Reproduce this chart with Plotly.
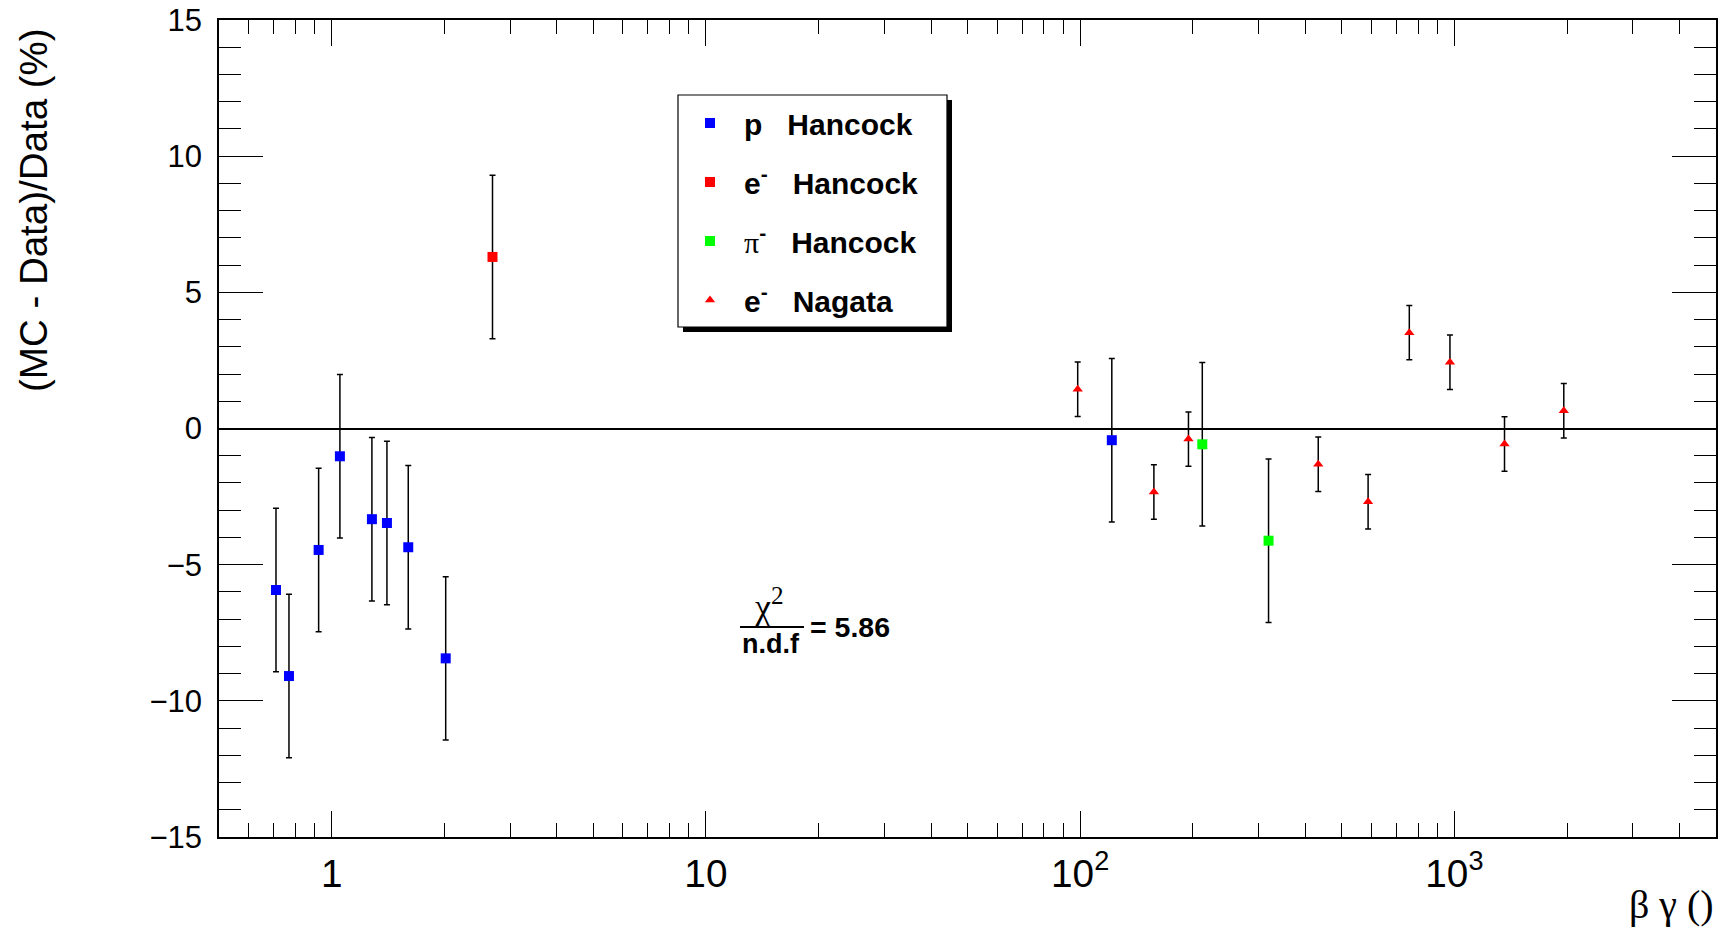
import plotly.graph_objects as go

# ---- data ----
p_hancock_x = [0.710, 0.769, 0.923, 1.052, 1.281, 1.405, 1.602, 2.017, 121.5]
p_hancock_y = [-5.93, -9.09, -4.46, -1.02, -3.33, -3.47, -4.36, -8.44, -0.43]
p_hancock_err = [3.0, 3.0, 3.0, 3.0, 3.0, 3.0, 3.0, 3.0, 3.0]

e_hancock_x = [2.69]
e_hancock_y = [6.30]
e_hancock_err = [3.0]

pi_hancock_x = [212.0, 318.7]
pi_hancock_y = [-0.58, -4.12]
pi_hancock_err = [3.0, 3.0]

e_nagata_x = [98.5, 157.4, 194.7, 432.7, 588.0, 757.7, 973.0, 1361.0, 1960.0]
e_nagata_y = [1.44, -2.33, -0.39, -1.31, -2.69, 3.52, 2.43, -0.57, 0.65]
e_nagata_err = [1.0, 1.0, 1.0, 1.0, 1.0, 1.0, 1.0, 1.0, 1.0]

chi2_ndf = 5.86

FONT = "Liberation Sans, Arial, Helvetica, sans-serif"
SERIF = "Liberation Serif, Times New Roman, serif"
NB = "\u00a0"

def err(vals):
    return dict(type="data", array=vals, visible=True, color="black",
                thickness=1.5, width=3)

fig = go.Figure()
fig.add_trace(go.Scatter(
    x=p_hancock_x, y=p_hancock_y, mode="markers", error_y=err(p_hancock_err),
    marker=dict(symbol="square", size=10, color="#0000ff"),
    name="<b>p" + NB * 3 + "Hancock</b>", legendgroup="a"))
fig.add_trace(go.Scatter(
    x=e_hancock_x, y=e_hancock_y, mode="markers", error_y=err(e_hancock_err),
    marker=dict(symbol="square", size=10, color="#ff0000"),
    name="<b>e<sup>-</sup>" + NB * 3 + "Hancock</b>", legendgroup="b"))
fig.add_trace(go.Scatter(
    x=pi_hancock_x, y=pi_hancock_y, mode="markers", error_y=err(pi_hancock_err),
    marker=dict(symbol="square", size=10, color="#00ff00"),
    name="<span style=\"font-family:'Liberation Serif';font-weight:normal\">π</span><b><sup>-</sup>"
         + NB * 3 + "Hancock</b>", legendgroup="c"))
fig.add_trace(go.Scatter(
    x=e_nagata_x, y=e_nagata_y, mode="markers", error_y=err(e_nagata_err),
    marker=dict(symbol="triangle-up", size=9, color="#ff0000"),
    name="<b>e<sup>-</sup>" + NB * 3 + "Nagata</b>", legendgroup="d"))

# page has an 8px body margin; figure sized so that plot frame lands at
# window pixels x 219..1716, y 20..837
OFF = 8
W, H = 1720, 921
L, R, T, B = 219 - OFF, 12, 20 - OFF, 92
pw, ph = W - L - R, H - T - B

def px(xw):
    return (xw - OFF - L) / pw

def py(yw):
    return (H - B - (yw - OFF)) / ph

shapes = []
# legend box shadow + box
bx0, bx1, by0, by1 = 678, 947, 95, 327
shapes.append(dict(type="rect", xref="paper", yref="paper",
                   x0=px(bx0 + 5), x1=px(bx1 + 5), y0=py(by1 + 5), y1=py(by0 + 5),
                   fillcolor="black", line=dict(width=0), layer="above"))
shapes.append(dict(type="rect", xref="paper", yref="paper",
                   x0=px(bx0), x1=px(bx1), y0=py(by1), y1=py(by0),
                   fillcolor="white", line=dict(color="black", width=1.2), layer="above"))
# fraction bar for chi2/ndf
shapes.append(dict(type="line", xref="paper", yref="paper",
                   x0=px(740), x1=px(804), y0=py(627), y1=py(627),
                   line=dict(color="black", width=2)))

annotations = [
    dict(text="(MC - Data)/Data (%)", xref="paper", yref="paper",
         x=px(34), y=py(210), textangle=-90, showarrow=False,
         xanchor="center", yanchor="middle",
         font=dict(family=FONT, size=38.5, color="black")),
    dict(text="β γ ()", xref="paper", yref="paper",
         x=px(1671), y=py(905), showarrow=False,
         xanchor="center", yanchor="middle",
         font=dict(family=SERIF, size=40, color="black")),
    dict(text="χ<sup>2</sup>", xref="paper", yref="paper",
         x=px(769), y=py(605), showarrow=False, xanchor="center", yanchor="middle",
         font=dict(family=SERIF, size=36, color="black")),
    dict(text="<b>n.d.f</b>", xref="paper", yref="paper",
         x=px(771), y=py(644), showarrow=False, xanchor="center", yanchor="middle",
         font=dict(family=FONT, size=27, color="black")),
    dict(text="<b>= %.2f</b>" % chi2_ndf, xref="paper", yref="paper",
         x=px(808), y=py(627), showarrow=False, xanchor="left", yanchor="middle",
         font=dict(family=FONT, size=28.5, color="black")),
]

fig.update_layout(
    width=W, height=H,
    margin=dict(l=L, r=R, t=T, b=B, autoexpand=False),
    paper_bgcolor="white", plot_bgcolor="white",
    font=dict(family=FONT, color="black"),
    shapes=shapes, annotations=annotations,
    showlegend=True,
    legend=dict(x=px(676), y=py(97), xanchor="left", yanchor="top",
                bgcolor="rgba(0,0,0,0)", borderwidth=0,
                font=dict(family=FONT, size=30, color="black"),
                tracegroupgap=17, itemwidth=58, itemclick=False),
)

fig.update_xaxes(
    type="log", range=[-0.30103, 3.69897],
    tickmode="linear", tick0=0, dtick=1, exponentformat="power",
    ticks="inside", ticklen=26, tickcolor="black", tickwidth=1.2,
    minor=dict(ticks="inside", ticklen=14, dtick="D1", tickcolor="black", tickwidth=1.2, showgrid=False),
    showline=True, linecolor="black", linewidth=1.5, mirror="allticks",
    showgrid=False, zeroline=False,
    tickfont=dict(family=FONT, size=31, color="black"),
    ticklabelstandoff=3, ticklabeloverflow="allow",
)
fig.update_yaxes(
    range=[-15, 15], tickmode="linear", tick0=0, dtick=5,
    ticks="inside", ticklen=44, tickcolor="black", tickwidth=1.2,
    minor=dict(ticks="inside", ticklen=22, dtick=1, tickcolor="black", tickwidth=1.2, showgrid=False),
    showline=True, linecolor="black", linewidth=1.5, mirror="allticks",
    showgrid=False, zeroline=True, zerolinecolor="black", zerolinewidth=1.5,
    tickfont=dict(family=FONT, size=31, color="black"),
    ticklabelstandoff=9, ticklabeloverflow="allow",
)

fig.write_html("out.html")
